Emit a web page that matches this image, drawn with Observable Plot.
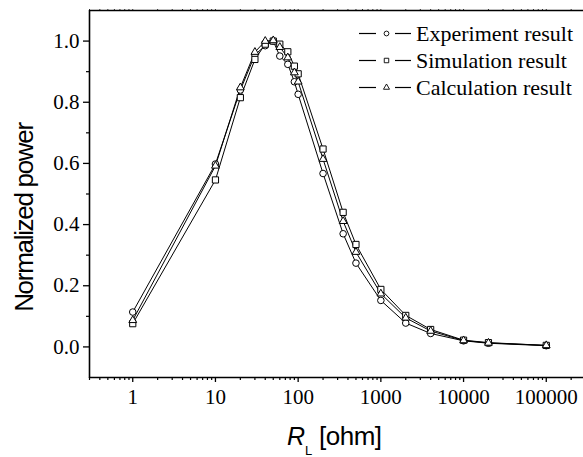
<!DOCTYPE html>
<html><head><meta charset="utf-8">
<script src="https://cdn.jsdelivr.net/npm/d3@7"></script>
<script src="https://cdn.jsdelivr.net/npm/@observablehq/plot@0.6"></script>
<style>
html,body{margin:0;padding:0;background:#fff;overflow:hidden}
svg{display:block}
</style></head><body><div id="chart"></div>
<script>
// ---- data ----
const resistance  = [1, 10, 20, 30, 40, 50, 60, 75, 90, 100, 200, 350, 500, 1000, 2000, 4000, 10000, 20000, 100000];
const experiment  = [0.114, 0.598, 0.840, 0.955, 0.985, 1.000, 0.951, 0.924, 0.867, 0.826, 0.567, 0.370, 0.274, 0.152, 0.078, 0.044, 0.020, 0.012, 0.004];
const simulation  = [0.076, 0.546, 0.815, 0.940, 0.990, 1.000, 0.990, 0.965, 0.918, 0.893, 0.647, 0.440, 0.335, 0.188, 0.103, 0.057, 0.022, 0.014, 0.005];
const calculation = [0.087, 0.592, 0.848, 0.964, 1.000, 1.002, 0.980, 0.946, 0.897, 0.867, 0.614, 0.411, 0.310, 0.174, 0.095, 0.052, 0.021, 0.013, 0.005];
const seriesNames = ["Experiment result", "Simulation result", "Calculation result"];
const seriesSymbols = ["circle", "square", "triangle"];
const yTicks = [0, 0.2, 0.4, 0.6, 0.8, 1.0];
const yMinorTicks = [0.1, 0.3, 0.5, 0.7, 0.9];
const xTicks = [1, 10, 100, 1000, 10000, 100000];
const xTitle = "R";
const xTitleSub = "L";
const xTitleUnit = "[ohm]";
const yTitle = "Normalized power";

(function () {
// ---- layout ----
const W = 583, H = 457, mL = 89, mR = 0, mT = 10, mB = 80;
const xDomain = [0.3, 282000], yDomain = [-0.1, 1.1];
const serif = "'Liberation Serif'";
const sans = "Liberation Sans";

const xMinorTicks = [];
for (let p = -1; p <= 5; p++) for (let m = 2; m <= 9; m++) {
  const v = m * Math.pow(10, p);
  if (v >= xDomain[0] && v <= xDomain[1]) xMinorTicks.push(+v.toPrecision(3));
}

const valueSets = [experiment, simulation, calculation];
const rows = [];
valueSets.forEach((vals, s) => resistance.forEach((r, i) => rows.push({r, v: vals[i], s: seriesNames[s]})));

const dotR = {circle: 3.3, square: 3.5, triangle: 2.9};
const fmtY = d3.format(".1f");

const plot = Plot.plot({
  width: W, height: H,
  marginLeft: mL, marginRight: mR, marginTop: mT, marginBottom: mB,
  style: "background: white; color: black;",
  x: {type: "log", domain: xDomain},
  y: {domain: yDomain},
  marks: [
    Plot.axisY({ticks: yTicks, tickSize: 6, tickFormat: () => "", label: null, strokeWidth: 1.3}),
    Plot.axisY({ticks: yMinorTicks, tickSize: 3, tickFormat: () => "", label: null, strokeWidth: 1.2}),
    Plot.axisX({ticks: xTicks, tickSize: 5, tickFormat: () => "", label: null, strokeWidth: 1.3}),
    Plot.axisX({ticks: xMinorTicks, tickSize: 3, tickFormat: () => "", label: null, strokeWidth: 1.2}),
    Plot.axisX({anchor: "top", ticks: xTicks.concat(xMinorTicks), tickSize: 2, tickFormat: () => "", label: null, strokeWidth: 0.8}),
    Plot.text(yTicks, {y: d => d, frameAnchor: "left", dx: -10, textAnchor: "end", text: d => fmtY(d),
      fontFamily: serif, fontSize: 21, fill: "black"}),
    Plot.text(xTicks, {x: d => d, frameAnchor: "bottom", dy: 12, lineAnchor: "top", text: d => String(d),
      fontFamily: serif, fontSize: 21, fill: "black"}),
    Plot.line(rows, {x: "r", y: "v", z: "s", stroke: "black", strokeWidth: 1}),
    ...seriesNames.map((name, k) =>
      Plot.dot(rows.filter(d => d.s === name), {x: "r", y: "v", symbol: seriesSymbols[k], r: dotR[seriesSymbols[k]], fill: "white", stroke: "black", strokeWidth: 1}))
  ]
});
document.getElementById("chart").appendChild(plot);

// ---- frame lines, titles, legend ----
const svg = d3.select(plot);
const xr = plot.scale("x").range, yr = plot.scale("y").range;
const fLeft = Math.min(...xr), fRight = Math.max(...xr), fBottom = Math.max(...yr), fTop = Math.min(...yr);
const g = svg.append("g").attr("stroke", "black").attr("fill", "none");
g.append("line").attr("x1", fLeft + 0.5).attr("x2", fLeft + 0.5).attr("y1", fTop).attr("y2", fBottom + 1).attr("stroke-width", 1.6);
g.append("line").attr("x1", fLeft).attr("x2", fRight).attr("y1", fBottom + 0.5).attr("y2", fBottom + 0.5).attr("stroke-width", 1.6);
g.append("line").attr("x1", fLeft).attr("x2", fRight).attr("y1", fTop + 0.5).attr("y2", fTop + 0.5).attr("stroke-width", 1.6);

svg.append("text")
  .attr("transform", `translate(32.5,${(fTop + fBottom) / 2 + 24}) rotate(-90)`)
  .attr("text-anchor", "middle")
  .style("font-family", sans)
  .style("font-size", "26px").style("letter-spacing", "-1.3px")
  .attr("fill", "black")
  .text(yTitle);

const xt = svg.append("g").attr("fill", "black").attr("text-anchor", "start").style("font-family", sans);
xt.append("text").attr("x", 287).attr("y", 445).style("font-size", "25px").style("font-style", "italic").text(xTitle);
xt.append("text").attr("x", 305).attr("y", 455).style("font-size", "13px").text(xTitleSub);
xt.append("text").attr("x", 319).attr("y", 445).style("font-size", "26px").style("letter-spacing", "-0.5px").text(xTitleUnit);

const legend = svg.append("g").attr("text-anchor", "start");
const symMap = {circle: d3.symbolCircle, square: d3.symbolSquare, triangle: d3.symbolTriangle};
const symSize = {circle: 18, square: 20, triangle: 16};
seriesNames.forEach((name, k) => {
  const cy = 33.5 + k * 27;
  const row = legend.append("g");
  row.append("line").attr("x1", 359).attr("x2", 376).attr("y1", cy).attr("y2", cy).attr("stroke", "black").attr("stroke-width", 1.2);
  row.append("line").attr("x1", 395).attr("x2", 411).attr("y1", cy).attr("y2", cy).attr("stroke", "black").attr("stroke-width", 1.2);
  row.append("path").attr("d", d3.symbol(symMap[seriesSymbols[k]], symSize[seriesSymbols[k]])())
    .attr("transform", `translate(386.5,${cy})`).attr("fill", "white").attr("stroke", "black").attr("stroke-width", 0.9);
  row.append("text").attr("x", 416).attr("y", cy + 7.3)
    .style("font-family", serif).style("font-size", "22px")
    .attr("fill", "black").text(name);
});
})();
</script></body></html>
